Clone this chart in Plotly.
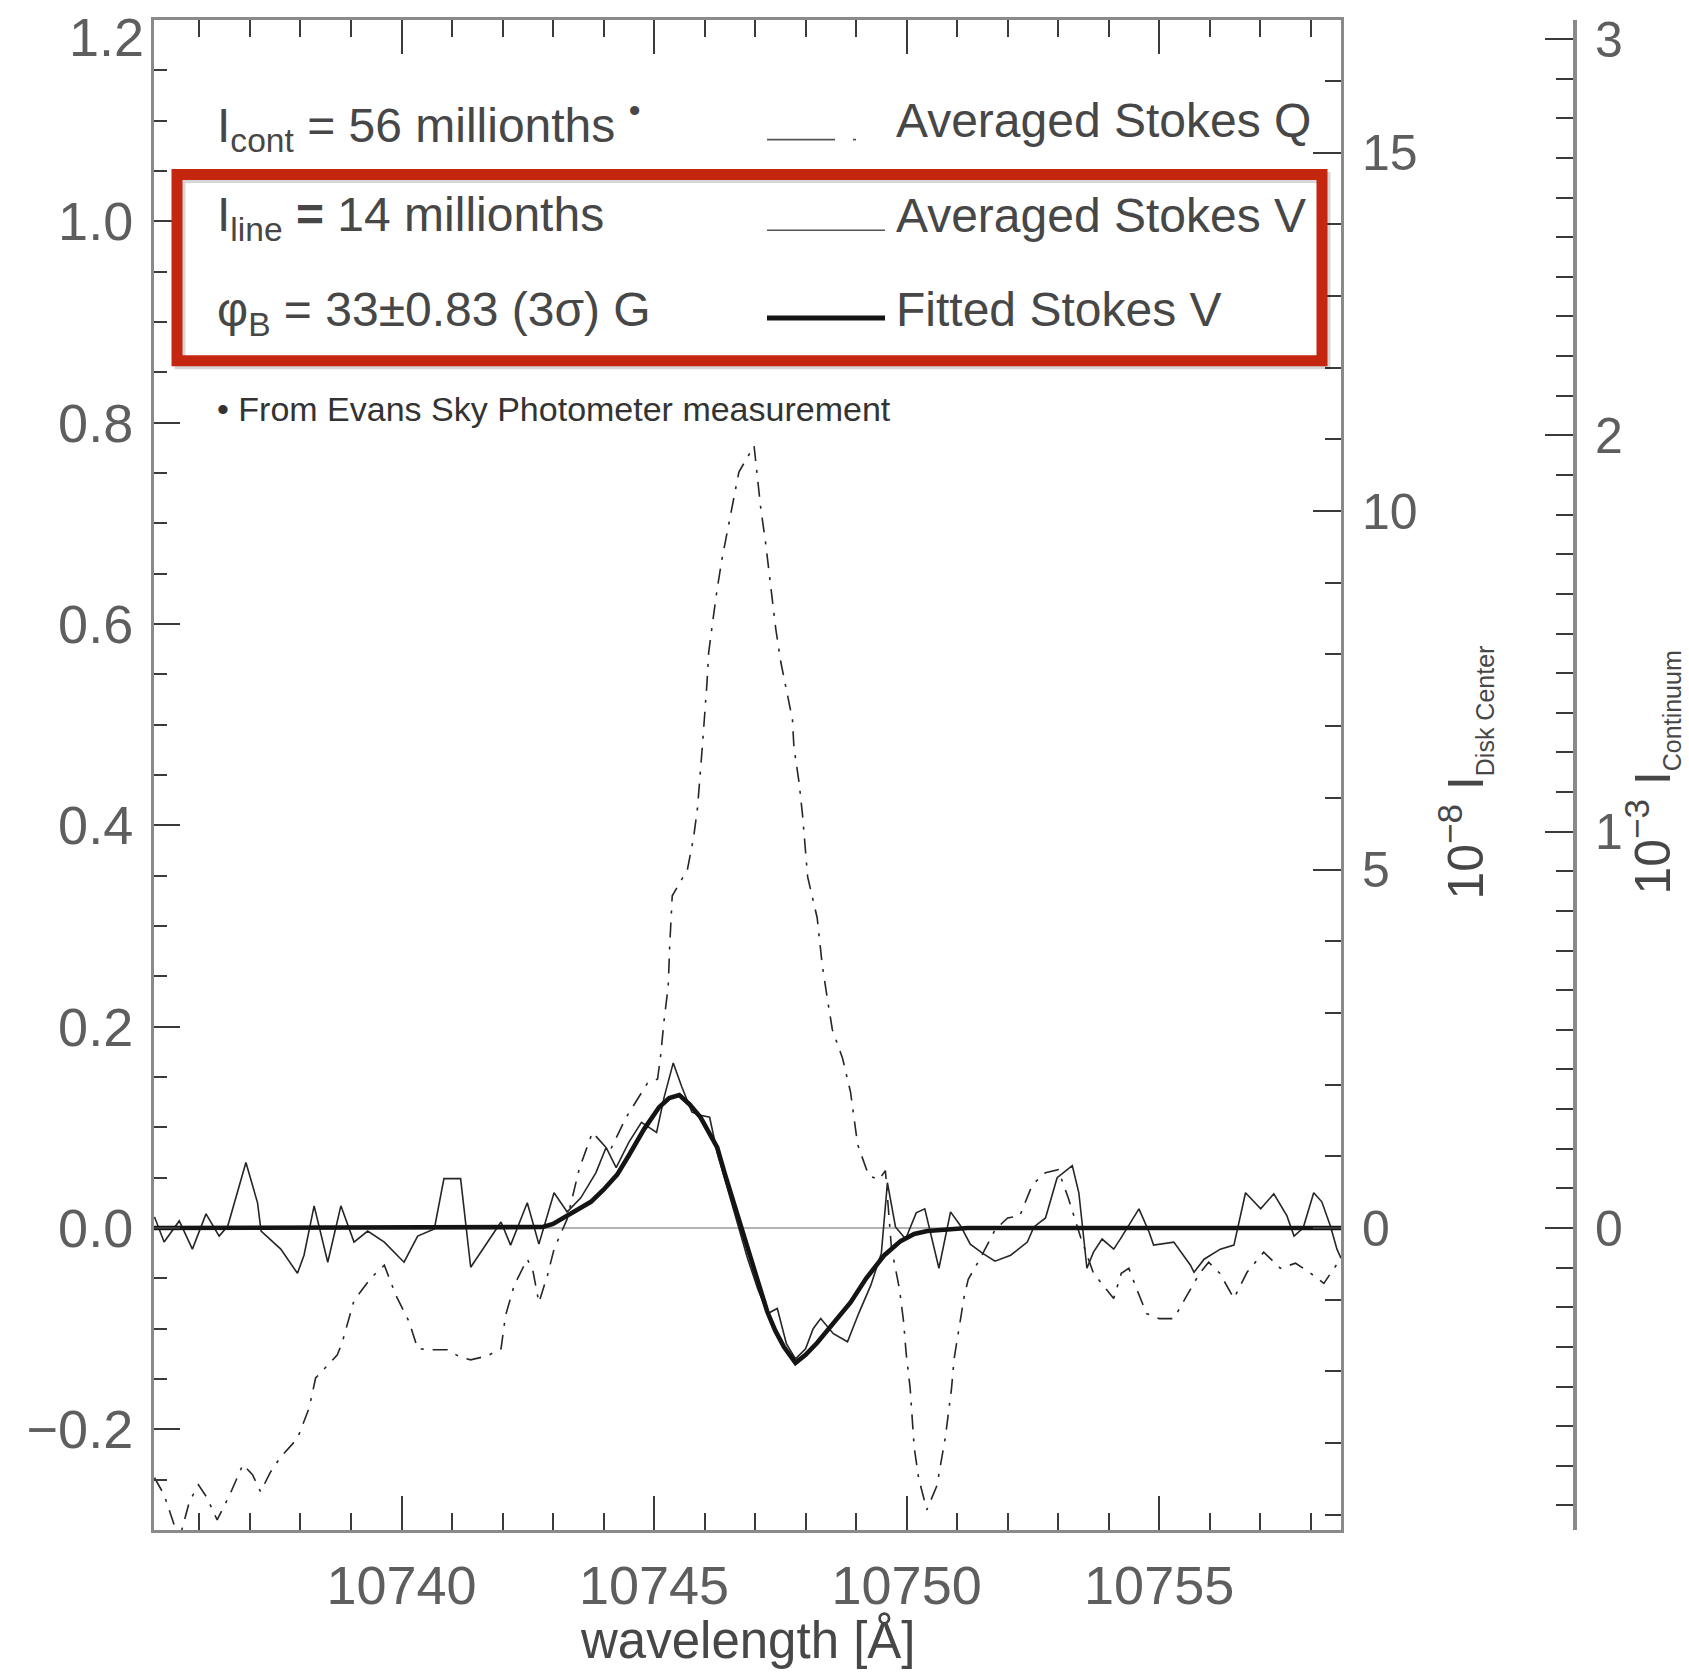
import plotly.graph_objects as go

# ---------------- data ----------------
# Averaged Stokes V (thin solid), normalised to I_line
wl_v = [10735.11, 10735.30, 10735.60, 10735.86, 10736.13, 10736.39, 10736.56, 10736.92, 10737.15, 10737.22,
        10737.61, 10737.94, 10738.07, 10738.27, 10738.54, 10738.80, 10739.06, 10739.33, 10739.66, 10740.05,
        10740.32, 10740.65, 10740.84, 10741.17, 10741.37, 10741.70, 10741.97, 10742.16, 10742.49, 10742.72,
        10743.02, 10743.28, 10743.55, 10743.85, 10744.05, 10744.25, 10744.50, 10744.75, 10745.05, 10745.20,
        10745.38, 10745.55, 10745.75, 10745.92, 10746.10, 10746.25, 10746.45, 10746.65, 10746.85, 10747.05,
        10747.25, 10747.44, 10747.62, 10747.80, 10748.00, 10748.15, 10748.30, 10748.55, 10748.83, 10749.05,
        10749.29, 10749.50, 10749.62, 10749.78, 10749.98, 10750.19, 10750.36, 10750.64, 10750.87, 10751.07,
        10751.26, 10751.50, 10751.75, 10752.06, 10752.39, 10752.52, 10752.75, 10752.98, 10753.28, 10753.41,
        10753.48, 10753.57, 10753.70, 10753.87, 10754.10, 10754.23, 10754.60, 10754.80, 10754.89, 10755.29,
        10755.62, 10755.69, 10755.89, 10756.21, 10756.48, 10756.58, 10756.71, 10757.01, 10757.27, 10757.53,
        10757.67, 10757.85, 10758.06, 10758.22, 10758.39, 10758.52, 10758.60]
stokes_v = [0.011, -0.014, 0.007, -0.021, 0.014, -0.008, 0.002, 0.065, 0.025, -0.003,
            -0.021, -0.045, -0.027, 0.022, -0.034, 0.022, -0.014, -0.003, -0.014, -0.034,
            -0.008, -0.001, 0.049, 0.049, -0.039, -0.014, 0.006, -0.017, 0.025, -0.016,
            0.035, 0.016, 0.030, 0.055, 0.080, 0.060, 0.085, 0.105, 0.095, 0.130,
            0.164, 0.140, 0.115, 0.112, 0.110, 0.075, 0.040, 0.005, -0.030, -0.060,
            -0.085, -0.080, -0.115, -0.130, -0.120, -0.100, -0.090, -0.105, -0.113, -0.085,
            -0.057, -0.025, 0.045, 0.001, -0.011, 0.015, 0.019, -0.040, 0.016, 0.002,
            -0.016, -0.025, -0.033, -0.027, -0.014, 0.001, 0.010, 0.050, 0.062, 0.035,
            -0.001, -0.040, -0.024, -0.011, -0.021, -0.011, 0.019, -0.004, -0.017, -0.014,
            -0.037, -0.044, -0.031, -0.021, -0.017, 0.006, 0.035, 0.019, 0.034, 0.012,
            -0.008, 0.000, 0.035, 0.026, 0.002, -0.021, -0.030]

# Averaged Stokes Q (dash-dot)
wl_q = [10735.11, 10735.30, 10735.50, 10735.65, 10735.80, 10735.98, 10736.15, 10736.35, 10736.60, 10736.86,
        10737.05, 10737.21, 10737.40, 10737.60, 10737.94, 10738.17, 10738.30, 10738.55, 10738.73, 10738.83,
        10739.06, 10739.39, 10739.66, 10739.89, 10740.15, 10740.32, 10740.65, 10740.91, 10741.15, 10741.37,
        10741.70, 10741.97, 10742.06, 10742.23, 10742.49, 10742.60, 10742.72, 10742.89, 10743.02, 10743.28,
        10743.52, 10743.78, 10744.12, 10744.45, 10744.74, 10744.87, 10745.07, 10745.13, 10745.20, 10745.28,
        10745.31, 10745.36, 10745.66, 10745.78, 10745.86, 10745.92, 10745.96, 10746.05, 10746.08, 10746.16,
        10746.25, 10746.35, 10746.58, 10746.68, 10746.98, 10747.05, 10747.11, 10747.21, 10747.34, 10747.41,
        10747.51, 10747.64, 10747.74, 10747.77, 10747.87, 10747.94, 10748.04, 10748.23, 10748.33, 10748.43,
        10748.53, 10748.73, 10748.89, 10749.03, 10749.25, 10749.45, 10749.58, 10749.70, 10749.86, 10749.94,
        10749.99, 10750.07, 10750.15, 10750.24, 10750.40, 10750.60, 10750.77, 10750.89, 10750.94, 10751.05,
        10751.14, 10751.22, 10751.46, 10751.75, 10752.00, 10752.24, 10752.49, 10752.75, 10753.00, 10753.20,
        10753.45, 10753.70, 10753.95, 10754.10, 10754.25, 10754.40, 10754.55, 10754.75, 10755.00, 10755.29,
        10755.55, 10755.80, 10755.98, 10756.20, 10756.48, 10756.74, 10757.07, 10757.40, 10757.70, 10758.00,
        10758.26, 10758.60]
stokes_q = [-0.248, -0.265, -0.295, -0.300, -0.272, -0.255, -0.268, -0.290, -0.265, -0.235,
            -0.245, -0.262, -0.243, -0.228, -0.209, -0.179, -0.149, -0.135, -0.126, -0.113,
            -0.072, -0.050, -0.037, -0.067, -0.093, -0.120, -0.121, -0.121, -0.128, -0.131,
            -0.127, -0.120, -0.087, -0.057, -0.031, -0.042, -0.074, -0.047, -0.021, 0.009,
            0.059, 0.095, 0.076, 0.110, 0.134, 0.144, 0.148, 0.171, 0.207, 0.240,
            0.280, 0.330, 0.356, 0.387, 0.417, 0.451, 0.481, 0.543, 0.571, 0.602,
            0.635, 0.666, 0.723, 0.751, 0.777, 0.747, 0.716, 0.680, 0.628, 0.595,
            0.562, 0.529, 0.505, 0.477, 0.443, 0.410, 0.349, 0.308, 0.261, 0.228,
            0.197, 0.169, 0.135, 0.083, 0.052, 0.048, 0.057, -0.020, -0.061, -0.093,
            -0.124, -0.159, -0.218, -0.249, -0.280, -0.256, -0.207, -0.159, -0.130, -0.096,
            -0.068, -0.051, -0.030, -0.002, 0.010, 0.012, 0.043, 0.055, 0.058, 0.030,
            -0.010, -0.045, -0.060, -0.070, -0.045, -0.040, -0.060, -0.085, -0.090, -0.090,
            -0.067, -0.045, -0.034, -0.045, -0.070, -0.044, -0.024, -0.040, -0.035, -0.045,
            -0.055, -0.030]

# Fitted Stokes V (thick solid)
wl_fit = [10735.10, 10742.60, 10742.80, 10743.00, 10743.28, 10743.50, 10743.75, 10744.00, 10744.27, 10744.50,
          10744.80, 10745.10, 10745.30, 10745.50, 10745.70, 10745.92, 10746.10, 10746.25, 10746.40, 10746.58,
          10746.72, 10746.85, 10746.98, 10747.24, 10747.40, 10747.57, 10747.80, 10748.00, 10748.23, 10748.55,
          10748.89, 10749.20, 10749.56, 10749.88, 10750.15, 10750.41, 10750.87, 10751.20, 10758.60]
fit_v = [0.0, 0.0, 0.001, 0.004, 0.012, 0.018, 0.026, 0.038, 0.053, 0.072,
         0.098, 0.120, 0.129, 0.132, 0.123, 0.110, 0.094, 0.080, 0.054, 0.025,
         -0.001, -0.022, -0.042, -0.083, -0.102, -0.118, -0.134, -0.126, -0.114, -0.095,
         -0.074, -0.050, -0.027, -0.013, -0.006, -0.003, -0.001, 0.0, 0.0]

x_range = [10735.1, 10758.6]
y_range = [-0.3, 1.2]
left_ticks = [-0.2, 0.0, 0.2, 0.4, 0.6, 0.8, 1.0]
left_ticktext = ["\u22120.2", "0.0", "0.2", "0.4", "0.6", "0.8", "1.0"]
k_disk = 14.04   # right axis: 1e-8 I_disk-center per unit of left axis
k_cont = 2.54    # far-right axis: 1e-3 I_continuum per unit of left axis

# ---------------- geometry ----------------
W, H = 1689, 1678
ML, MR, MT, MB = 154, 60, 15, 148
plot_w = W - ML - MR
frame_right = 1341
x_dom_end = (frame_right - ML) / plot_w
far_axis_pos = (1575 - ML) / plot_w

FONT = "Liberation Sans"
TXT = "#474747"
TICKC = "#5e5e5e"
LINEC = "#8a8a8a"

fig = go.Figure()
fig.add_trace(go.Scatter(x=wl_q, y=stokes_q, mode="lines", name="Averaged Stokes Q",
                         line=dict(color="#262626", width=1.6, dash="15px,9px,3px,9px")))
fig.add_trace(go.Scatter(x=wl_v, y=stokes_v, mode="lines", name="Averaged Stokes V",
                         line=dict(color="#262626", width=1.6)))
fig.add_trace(go.Scatter(x=wl_fit, y=fit_v, mode="lines", name="Fitted Stokes V",
                         line=dict(color="#141414", width=4.6)))
# carrier traces so the two right-hand axes are drawn
fig.add_trace(go.Scatter(x=[None], y=[None], yaxis="y2", mode="lines", showlegend=False, hoverinfo="skip"))
fig.add_trace(go.Scatter(x=[None], y=[None], yaxis="y3", mode="lines", showlegend=False, hoverinfo="skip"))

tick_common = dict(ticks="inside", tickcolor="#3a3a3a", tickwidth=2, showgrid=False, zeroline=False,
                   showline=True, linecolor=LINEC)

fig.update_layout(
    width=W, height=H, autosize=False,
    margin=dict(l=ML, r=MR, t=MT, b=MB, pad=0),
    paper_bgcolor="white", plot_bgcolor="white",
    showlegend=False,
    font=dict(family=FONT, color=TXT),
    xaxis=dict(domain=[0, x_dom_end], range=x_range, tick0=10740, dtick=5, tickformat="d",
               ticklen=34, linewidth=3, mirror="ticks",
               minor=dict(tick0=10740, dtick=1, ticklen=17, ticks="inside", tickcolor="#3a3a3a", tickwidth=2),
               tickfont=dict(family=FONT, size=54, color=TICKC), ticklabelstandoff=6,
               **tick_common),
    yaxis=dict(domain=[0, 1], range=y_range, tickmode="array", tickvals=left_ticks, ticktext=left_ticktext,
               ticklen=26, linewidth=3,
               minor=dict(tick0=0, dtick=0.05, ticklen=13, ticks="inside", tickcolor="#3a3a3a", tickwidth=2),
               tickfont=dict(family=FONT, size=54, color=TICKC), ticklabelstandoff=7,
               **tick_common),
    yaxis2=dict(overlaying="y", side="right", anchor="x",
                range=[y_range[0] * k_disk, y_range[1] * k_disk], tick0=0, dtick=5,
                ticklen=28, linewidth=3,
                minor=dict(tick0=0, dtick=1, ticklen=16, ticks="inside", tickcolor="#3a3a3a", tickwidth=2),
                tickfont=dict(family=FONT, size=50, color=TICKC), ticklabelstandoff=8,
                **tick_common),
    yaxis3=dict(overlaying="y", side="right", anchor="free", position=far_axis_pos,
                range=[y_range[0] * k_cont, y_range[1] * k_cont], tick0=0, dtick=1,
                ticklen=28, linewidth=4,
                minor=dict(tick0=0, dtick=0.1, ticklen=17, ticks="inside", tickcolor="#3a3a3a", tickwidth=2),
                tickfont=dict(family=FONT, size=50, color=TICKC), ticklabelstandoff=8,
                **tick_common),
)

def ydom(py):
    return (H - MB - py) / (H - MB - MT)

def xdom(px):
    return (px - ML) / (frame_right - ML)

shapes = [
    # zero reference line
    dict(type="line", xref="x domain", yref="y", x0=0, x1=1, y0=0, y1=0,
         line=dict(color="#9a9a9a", width=1.5), layer="below"),
    # legend samples
    dict(type="line", xref="x domain", yref="y domain", x0=xdom(767), x1=xdom(885), y0=ydom(135), y1=ydom(135),
         line=dict(color="#555555", width=1.6, dash="68px,18px,3px,40px")),
    dict(type="line", xref="x domain", yref="y domain", x0=xdom(767), x1=xdom(885), y0=ydom(226), y1=ydom(226),
         line=dict(color="#555555", width=1.6)),
    dict(type="line", xref="x domain", yref="y domain", x0=xdom(767), x1=xdom(885), y0=ydom(314), y1=ydom(314),
         line=dict(color="#141414", width=5)),
    # red highlight box (with faint shadow)
    dict(type="rect", xref="x domain", yref="y domain", x0=xdom(180), x1=xdom(1325), y0=ydom(360), y1=ydom(173),
         line=dict(color="rgba(0,0,0,0.16)", width=11)),
    dict(type="rect", xref="x domain", yref="y domain", x0=xdom(177), x1=xdom(1322), y0=ydom(357), y1=ydom(170),
         line=dict(color="#c4260f", width=11)),
]
fig.update_layout(shapes=shapes)

ann = []
def add_text(text, px, py, size, anchor="left", color=TXT):
    ann.append(dict(text=text, xref="x domain", yref="y domain", x=xdom(px), y=ydom(py),
                    xanchor=anchor, yanchor="middle", showarrow=False,
                    font=dict(family=FONT, size=size, color=color)))

add_text("I<sub>cont</sub> = 56 millionths <sup>\u2022</sup>", 215, 121, 48)
add_text("I<sub>line</sub> <b>=</b> 14 millionths", 215, 214, 48)
add_text("\u03c6<sub>B</sub> = 33\u00b10.83 (3\u03c3) G", 215, 309, 48)
add_text("\u2022 From Evans Sky Photometer measurement", 215, 405, 34, color="#333333")
add_text("Averaged Stokes Q", 894, 116, 48)
add_text("Averaged Stokes V", 894, 211, 48)
add_text("Fitted Stokes V", 894, 305, 48)

# tick label 1.2 (drawn slightly lowered as in the original)
ann.append(dict(text="1.2", xref="x domain", yref="y", x=0, y=1.2, xanchor="right", yanchor="middle",
                xshift=-8, yshift=-17, showarrow=False, font=dict(family=FONT, size=54, color=TICKC)))
# axis titles
ann.append(dict(text="wavelength [\u00c5]", xref="x domain", yref="paper", x=0.5, y=ydom(1641),
                xanchor="center", yanchor="middle", showarrow=False, font=dict(family=FONT, size=51, color=TXT)))
ann.append(dict(text="10<sup>\u22128</sup> I<sub><span style='font-size:25px'>Disk Center</span></sub>",
                xref="paper", yref="paper", x=(1465 - ML) / plot_w, y=ydom(770), xanchor="center", yanchor="middle",
                textangle=-90, showarrow=False, font=dict(family=FONT, size=50, color=TXT)))
ann.append(dict(text="10<sup>\u22123</sup> I<sub><span style='font-size:25px'>Continuum</span></sub>",
                xref="paper", yref="paper", x=(1652 - ML) / plot_w, y=ydom(770), xanchor="center", yanchor="middle",
                textangle=-90, showarrow=False, font=dict(family=FONT, size=50, color=TXT)))
fig.update_layout(annotations=ann)

fig.write_html("out.html")
